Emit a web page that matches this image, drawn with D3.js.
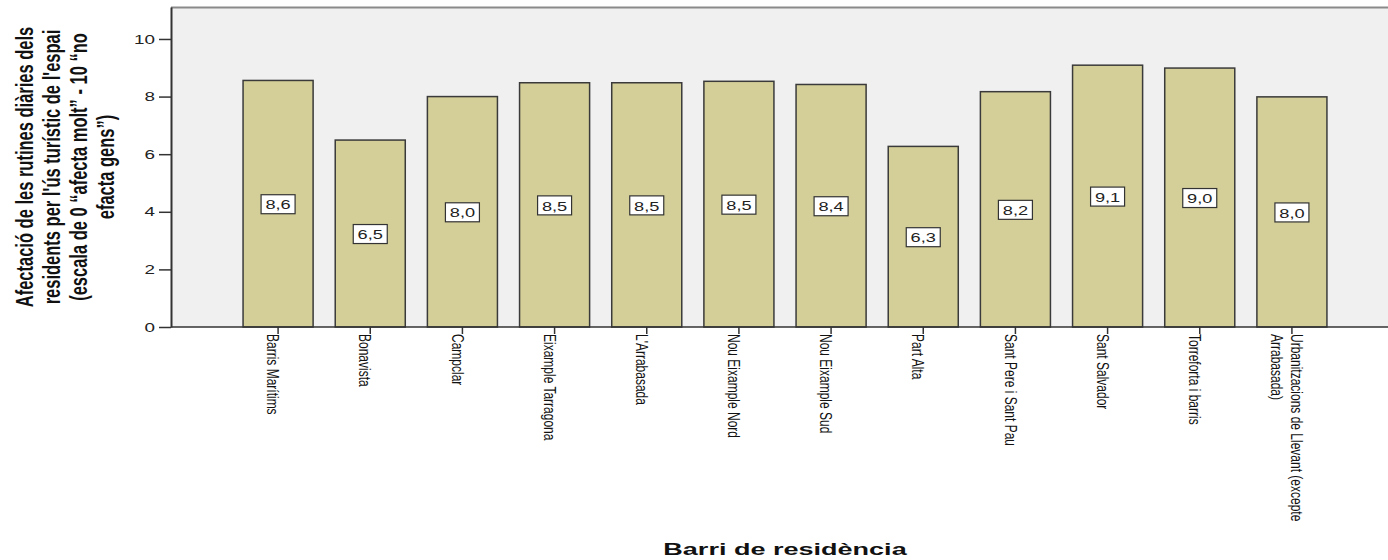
<!DOCTYPE html>
<html><head><meta charset="utf-8">
<script src="https://cdn.jsdelivr.net/npm/d3@7"></script>
<style>body{margin:0;background:#fff}svg{display:block}text{font-family:"Liberation Sans",Arial,sans-serif}</style>
</head><body><svg id="c" width="1388" height="560"></svg>
<script>
const categories = ["Barris Marítims","Bonavista","Campclar","Eixample Tarragona","L'Arrabasada","Nou Eixample Nord","Nou Eixample Sud","Part Alta","Sant Pere i Sant Pau","Sant Salvador","Torreforta i barris","Urbanitzacions de Llevant  (excepte Arrabasada)"];
const values = [8.56,6.49,8.0,8.48,8.48,8.53,8.42,6.27,8.17,9.09,8.99,7.99];
const yTicks = [0,2,4,6,8,10];
const yTitleLines = ["Afectació de les rutines diàries dels","residents per l'ús turístic de l'espai","(escala de 0 “afecta molt” - 10 “no","efacta gens”)"];
const xTitle = "Barri de residència";

const svg = d3.select("#c");
const L = 171, T = 7, B = 327, R = 1388;
const SX = 1.45;

const x = d3.scaleBand().domain(categories).range([232,1338]).paddingInner(0.24).paddingOuter(0.12);
const y = d3.scaleLinear().domain([0,11.11]).range([B,T]);

svg.append("rect").attr("x",L).attr("y",T).attr("width",R-L).attr("height",B-T).attr("fill","#f0f0f0");
svg.append("line").attr("x1",L).attr("x2",R).attr("y1",T+0.5).attr("y2",T+0.5).attr("stroke","#8a8a8a").attr("stroke-width",2);

const data = categories.map((c,i)=>({c, v: values[i]}));

svg.append("g").selectAll("rect").data(data).join("rect")
  .attr("x",d=>x(d.c)).attr("y",d=>y(d.v))
  .attr("width",x.bandwidth()).attr("height",d=>B-y(d.v))
  .attr("fill","#d4cf98").attr("stroke","#3a3a3a").attr("stroke-width",1.5);

// x axis
const xg = svg.append("g").attr("transform",`translate(0,${B})`)
  .call(d3.axisBottom(x).tickSize(7).tickSizeOuter(0));
xg.select(".domain").remove();
xg.selectAll(".tick line").attr("stroke","#333").attr("stroke-width",1.5);
xg.selectAll(".tick text").remove();
xg.selectAll(".tick").each(function(d){
  const g = d3.select(this);
  const t = g.append("text").attr("transform",`translate(0,7) scale(${SX},1) rotate(90)`)
    .attr("text-anchor","start").attr("font-size",12).attr("fill","#111");
  const words = d.split(/\s+/);
  const lines = [];
  let cur = [];
  const probe = t.append("tspan");
  words.forEach(w=>{
    const test = cur.concat([w]).join(" ");
    probe.text(test);
    if (probe.node().getComputedTextLength() > 215 && cur.length) { lines.push(cur.join(" ")); cur=[w]; }
    else cur.push(w);
  });
  lines.push(cur.join(" "));
  probe.remove();
  const n = lines.length, LH = 14;
  lines.forEach((ln,i)=>{
    t.append("tspan").attr("x",0).attr("y",7.5-(n-1)*LH/2+i*LH).text(ln);
  });
});
svg.append("line").attr("x1",L).attr("x2",R).attr("y1",B).attr("y2",B).attr("stroke","#333").attr("stroke-width",1.5);

// y axis
const yg = svg.append("g").attr("transform",`translate(${L},0)`)
  .call(d3.axisLeft(y).tickValues(yTicks).tickSize(12).tickSizeOuter(0).tickFormat(d3.format("d")));
yg.select(".domain").attr("stroke","#333").attr("stroke-width",2);
yg.selectAll(".tick line").attr("stroke","#333").attr("stroke-width",1.5);
yg.selectAll(".tick text").attr("x",null).attr("transform",`translate(-16,0) scale(${SX},1)`)
  .attr("font-size",13).attr("fill","#222").attr("font-family",'"Liberation Sans",Arial,sans-serif');

// value labels
const fmt = v => d3.format(".1f")(v).replace(".",",");
const lg = svg.append("g").selectAll("g").data(data).join("g")
  .attr("transform",d=>`translate(${x(d.c)+x.bandwidth()/2},${(y(d.v)+B)/2+1})`);
lg.append("rect").attr("x",-17).attr("y",-10).attr("width",34).attr("height",19)
  .attr("fill","#fff").attr("stroke","#333").attr("stroke-width",1.2);
lg.append("text").attr("transform",`scale(1.4,1)`).attr("text-anchor","middle").attr("dy","0.36em")
  .attr("font-size",13).attr("fill","#222").text(d=>fmt(d.v));

// y title
const yt = svg.append("text").attr("transform",`translate(25,167) scale(${SX},1) rotate(-90)`)
  .attr("text-anchor","middle").attr("font-weight","bold").attr("font-size",16.5).attr("fill","#111");
yTitleLines.forEach((ln,i)=>yt.append("tspan").attr("x",0).attr("y",5.7+18.6*i).text(ln));

// x title
svg.append("text").attr("transform",`translate(785,555) scale(1.69,1)`).attr("text-anchor","middle")
  .attr("font-weight","bold").attr("font-size",16).attr("fill","#111").text(xTitle);
</script></body></html>
